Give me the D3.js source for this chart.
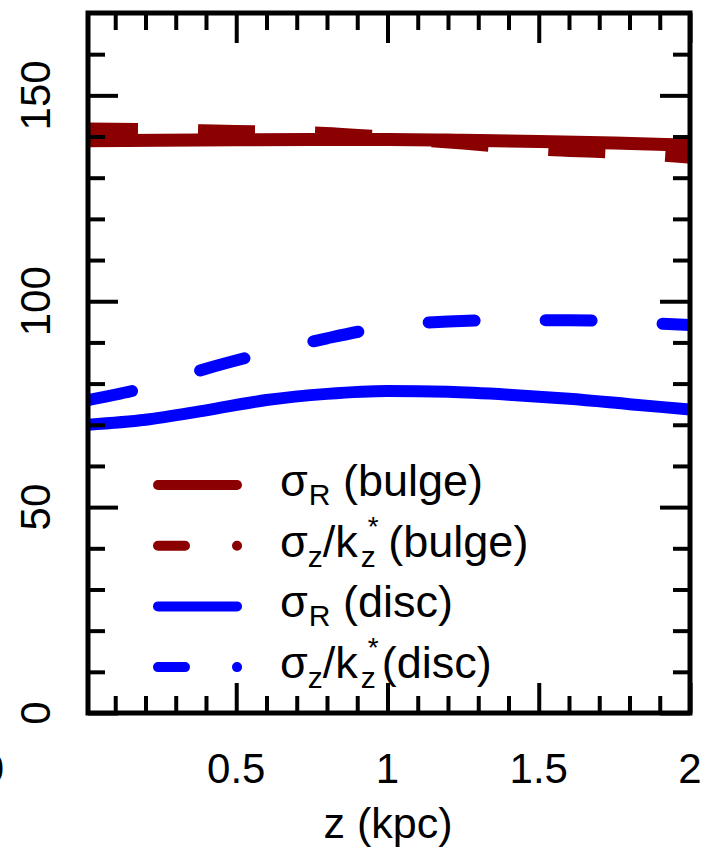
<!DOCTYPE html>
<html>
<head>
<meta charset="utf-8">
<script src="https://cdn.jsdelivr.net/npm/d3@7"></script>
<style>
  body { margin: 0; background: #fff; }
  svg { display: block; font-family: "Liberation Sans", Arial, Helvetica, sans-serif; }
  text { white-space: pre; }
</style>
</head>
<body>
<svg width="701" height="851"></svg>
<script>
// values, z in kpc, dispersions in km/s
var zBulge = [0.01, 0.25, 0.5, 0.75, 1.0, 1.25, 1.5, 1.75, 2.0];
var sigRBulge = [139.0, 139.1, 139.2, 139.3, 139.3, 139.1, 138.8, 138.4, 137.9];
var sigZBulge = [141.8, 141.6, 141.2, 140.9, 139.8, 138.4, 137.0, 136.2, 135.0];

var zDisc = [0.01, 0.2, 0.4, 0.6, 0.8, 1.0, 1.2, 1.4, 1.6, 1.8, 2.0];
var sigRDisc = [70.0, 71.2, 73.5, 76.0, 77.5, 78.2, 78.0, 77.3, 76.3, 75.0, 73.7];
var sigZDisc = [76.0, 79.0, 83.6, 87.5, 91.0, 93.8, 95.1, 95.4, 95.4, 94.9, 94.2];

var xMajorTicks = [0.5, 1, 1.5, 2];
var xTickLabels = ["0.5", "1", "1.5", "2"];
var xMinorTicks = [0.1, 0.2, 0.3, 0.4, 0.6, 0.7, 0.8, 0.9, 1.1, 1.2, 1.3, 1.4, 1.6, 1.7, 1.8, 1.9];
var yMajorTicks = [0, 50, 100, 150];
var yTickLabels = ["0", "50", "100", "150"];
var yMinorTicks = [10, 20, 30, 40, 60, 70, 80, 90, 110, 120, 130, 140, 160];

var darkRed = "#8b0000", blue = "#0000ff";

var svg = d3.select("svg");
var pLeft = 88, pRight = 690, pTop = 13, pBottom = 713;

var x = d3.scaleLinear().domain([0.01, 2]).range([pLeft, pRight]);
var y = d3.scaleLinear().domain([0, 170]).range([pBottom, pTop]);

svg.append("clipPath").attr("id", "plotclip")
  .append("rect")
  .attr("x", pLeft).attr("y", pTop)
  .attr("width", pRight - pLeft).attr("height", pBottom - pTop);

var line = d3.line()
  .x(function(d) { return x(d[0]); })
  .y(function(d) { return y(d[1]); })
  .curve(d3.curveMonotoneX);

function pairs(zs, vs) { return zs.map(function(z, i) { return [z, vs[i]]; }); }

var plot = svg.append("g").attr("clip-path", "url(#plotclip)");

plot.append("path")
  .attr("d", line(pairs(zBulge, sigRBulge)))
  .attr("fill", "none").attr("stroke", darkRed).attr("stroke-width", 13);

plot.append("path")
  .attr("d", line(pairs(zBulge, sigZBulge)))
  .attr("fill", "none").attr("stroke", darkRed).attr("stroke-width", 13)
  .attr("stroke-dasharray", "57,60").attr("stroke-dashoffset", 7);

plot.append("path")
  .attr("d", line(pairs(zDisc, sigRDisc)))
  .attr("fill", "none").attr("stroke", blue).attr("stroke-width", 12)
  .attr("stroke-linecap", "round");

plot.append("path")
  .attr("d", line(pairs(zDisc, sigZDisc)))
  .attr("fill", "none").attr("stroke", blue).attr("stroke-width", 12)
  .attr("stroke-linecap", "round")
  .attr("stroke-dasharray", "46,71").attr("stroke-dashoffset", 1);

// ticks on all four sides, pointing inwards
function ticks(axis, tx, ty, vals, len) {
  var g = svg.append("g")
    .attr("transform", "translate(" + tx + "," + ty + ")")
    .call(axis.tickValues(vals).tickSize(-len).tickSizeOuter(0).tickFormat(""));
  g.select(".domain").remove();
  g.selectAll(".tick line").attr("stroke", "#000").attr("stroke-width", 4);
}
ticks(d3.axisBottom(x), 0, pBottom, xMinorTicks, 17);
ticks(d3.axisBottom(x), 0, pBottom, xMajorTicks, 30);
ticks(d3.axisTop(x), 0, pTop, xMinorTicks, 17);
ticks(d3.axisTop(x), 0, pTop, xMajorTicks, 30);
ticks(d3.axisLeft(y), pLeft, 0, yMinorTicks, 17);
ticks(d3.axisLeft(y), pLeft, 0, yMajorTicks, 30);
ticks(d3.axisRight(y), pRight, 0, yMinorTicks, 17);
ticks(d3.axisRight(y), pRight, 0, yMajorTicks, 30);

svg.append("rect")
  .attr("x", pLeft).attr("y", pTop)
  .attr("width", pRight - pLeft).attr("height", pBottom - pTop)
  .attr("fill", "none").attr("stroke", "#000").attr("stroke-width", 5);

// tick labels
svg.selectAll(".xlab").data(xMajorTicks).enter().append("text")
  .attr("class", "xlab")
  .attr("x", function(d) { return x(d); })
  .attr("y", 783)
  .attr("text-anchor", "middle")
  .attr("font-size", 42)
  .text(function(d, i) { return xTickLabels[i]; });

// sliver of a clipped label at the far left edge
svg.append("text").attr("x", 4).attr("y", 783)
  .attr("text-anchor", "end").attr("font-size", 42).text("0");

svg.selectAll(".ylab").data(yMajorTicks).enter().append("text")
  .attr("class", "ylab")
  .attr("transform", function(d) { return "translate(50," + y(d) + ") rotate(-90)"; })
  .attr("text-anchor", "middle")
  .attr("font-size", 42)
  .text(function(d, i) { return yTickLabels[i]; });

svg.append("text")
  .attr("x", 388).attr("y", 838)
  .attr("text-anchor", "middle")
  .attr("font-size", 43)
  .text("z (kpc)");

// legend
var legendColors = [darkRed, darkRed, blue, blue];
var legendDashed = [false, true, false, true];
var legendParts = [
  [{t: "σ"}, {t: "R", size: 30, shift: 9, dx: 1}, {t: " (bulge)"}],
  [{t: "σ"}, {t: "z", size: 30, shift: 10}, {t: "/k"}, {t: "*", size: 28, shift: -21, dx: 10, stack: true},
   {t: "z", size: 30, shift: 10, dx: 3}, {t: " (bulge)"}],
  [{t: "σ"}, {t: "R", size: 30, shift: 9, dx: 1}, {t: " (disc)"}],
  [{t: "σ"}, {t: "z", size: 30, shift: 10}, {t: "/k"}, {t: "*", size: 28, shift: -21, dx: 10, stack: true},
   {t: "z", size: 30, shift: 10, dx: 3}, {t: "(disc)", dx: 6}]
];

var legend = svg.append("g");
legendParts.forEach(function(parts, i) {
  var ly = 485 + i * 60.7;
  legend.append("line")
    .attr("x1", 158).attr("x2", legendDashed[i] ? 240 : 237).attr("y1", ly).attr("y2", ly)
    .attr("stroke", legendColors[i]).attr("stroke-width", 10)
    .attr("stroke-linecap", "round")
    .attr("stroke-dasharray", legendDashed[i] ? "27,52,0.1,100" : null);

  var cx = 280, base = ly + 11;
  parts.forEach(function(p) {
    var t = legend.append("text")
      .attr("x", cx + (p.dx || 0))
      .attr("y", base + (p.shift || 0))
      .attr("font-size", p.size || 45)
      .text(p.t);
    if (!p.stack) cx += t.node().getComputedTextLength() + (p.dx || 0);
  });
});
</script>
</body>
</html>
